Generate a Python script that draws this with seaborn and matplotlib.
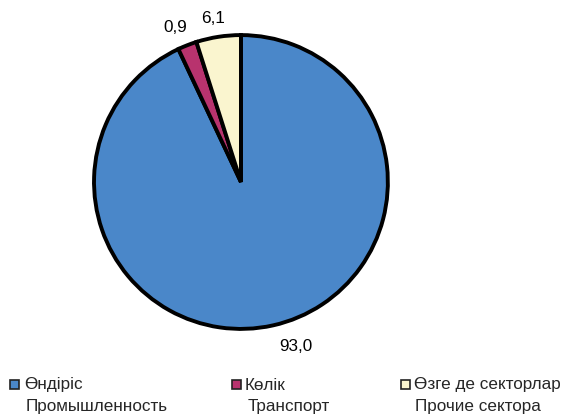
import matplotlib
matplotlib.use("Agg")
import matplotlib.pyplot as plt
import seaborn as sns
import numpy as np
from matplotlib.patches import Rectangle

# данные
sectors_kz = ["Өндіріс", "Көлік", "Өзге де секторлар"]
sectors_ru = ["Промышленность", "Транспорт", "Прочие сектора"]
shares = [93.0, 2.1, 4.9]            # доли как нарисованы на диаграмме
value_labels = ["93,0", "0,9", "6,1"]  # подписи как на картинке
colors = ["#4a87c9", "#b8336e", "#faf5cf"]

sns.set_theme(style="white")
plt.rcParams["font.family"] = ["Liberation Sans", "DejaVu Sans"]

fig = plt.figure(figsize=(5.64, 4.16), dpi=100)
ax = fig.add_axes([0.1667, 0.209, 0.521, 0.707])

wedges, _ = ax.pie(shares, colors=colors, startangle=90, counterclock=False,
                   wedgeprops=dict(edgecolor="black", linewidth=2.8))
ax.set_xlim(-1, 1)
ax.set_ylim(-1, 1)
ax.set_aspect("equal")

# подписи значений
label_r = [1.18, 1.14, 1.13]
angle_shift = [6, 1.6, 1]
for w, txt, r, da in zip(wedges, value_labels, label_r, angle_shift):
    ang = np.deg2rad((w.theta1 + w.theta2) / 2 + da)
    ax.text(r * np.cos(ang), r * np.sin(ang), txt, ha="center", va="center",
            fontsize=12.3, color="black")

# легенда (два языка)
marker_x = [10, 232, 401]
kz_x = [24, 245, 414]
ru_x = [26, 248, 415]
for mx, kx, rx, kz, ru, c in zip(marker_x, kz_x, ru_x, sectors_kz, sectors_ru, colors):
    fig.patches.append(Rectangle((mx / 564, (416 - 389) / 416), 9 / 564, 9 / 416,
                                 transform=fig.transFigure, facecolor=c,
                                 edgecolor="#222222", linewidth=1.2))
    fig.text(kx / 564, (416 - 385) / 416, kz, ha="left", va="center", fontsize=12.3)
    fig.text(rx / 564, (416 - 407) / 416, ru, ha="left", va="center", fontsize=12.3)

fig.savefig("out.png", dpi=100)
